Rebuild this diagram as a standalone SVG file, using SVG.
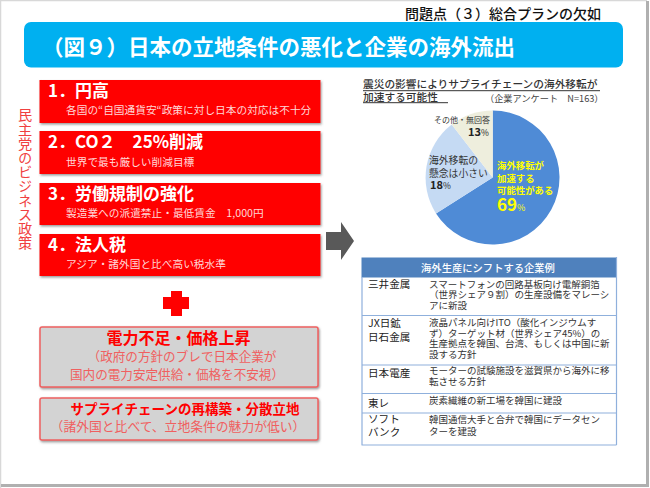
<svg xmlns="http://www.w3.org/2000/svg" width="650" height="488" viewBox="0 0 650 488">
<defs>
<filter id="sh" x="-5%" y="-10%" width="110%" height="125%"><feDropShadow dx="1" dy="1.5" stdDeviation="0.8" flood-color="#555" flood-opacity="0.6"/></filter>
</defs>
<style>
text{font-family:"Noto Sans CJK JP","Liberation Sans",sans-serif}
.rb{fill:#ff0000;filter:url(#sh)}
.gb{fill:#d3d3d3;stroke:#ee6060;stroke-width:1.5;filter:url(#sh)}
.h{font-size:17px;font-weight:700;fill:#fff}
.s{font-size:10.7px;fill:#ffd8d8}
.gh{font-weight:700;fill:#ff0000;text-anchor:middle}
.gs{fill:#f06060;text-anchor:middle}
.c{font-size:10.6px;fill:#222}
.d{font-size:9.5px;fill:#333}
.rule{stroke:#8fb0dc;stroke-width:1.2}
.p{font-size:9.8px;fill:#333}
</style>
<rect width="650" height="488" fill="#fff"/>
<path d="M0.5 488V0.5H647" fill="none" stroke="#d8d8d8" stroke-width="1.5"/>
<path d="M647.5 1V485.500H1" fill="none" stroke="#b0b0b0" stroke-width="3"/>

<g id="page-title"><text x="503" y="19" font-size="14" font-weight="500" fill="#111" text-anchor="middle">問題点（３）総合プランの欠如</text></g>
<g id="banner">
<rect x="24" y="22" width="599" height="45.500" rx="7" fill="#00b0f0"/>
<text x="42" y="55" font-size="21.500" font-weight="700" fill="#fff">（図９）日本の立地条件の悪化と企業の海外流出</text>
</g>

<g id="side-label"><text x="25" y="108" font-size="14.200" fill="#f04040" style="writing-mode:vertical-rl;glyph-orientation-vertical:0">民主党のビジネス政策</text></g>

<g id="item-1"><rect class="rb" x="39.500" y="80" width="281" height="43"/>
<text class="h" x="48" y="97">1．円高</text><text class="s" x="66" y="114">各国の“自国通貨安“政策に対し日本の対応は不十分</text></g>
<g id="item-2"><rect class="rb" x="39.500" y="131" width="281" height="43"/>
<text class="h" x="48" y="148">2．CO２　25%削減</text><text class="s" x="66" y="166">世界で最も厳しい削減目標</text></g>
<g id="item-3"><rect class="rb" x="39.500" y="183" width="281" height="42"/>
<text class="h" x="48" y="200">3．労働規制の強化</text><text class="s" x="66" y="217">製造業への派遣禁止・最低賃金　1,000円</text></g>
<g id="item-4"><rect class="rb" x="39.500" y="234" width="281" height="42"/>
<text class="h" x="48" y="251">4．法人税</text><text class="s" x="66" y="268">アジア・諸外国と比べ高い税水準</text></g>

<g id="plus"><path d="M171 291H182V297H189V309H182V316H171V309H163V297H171Z" fill="#ff0000"/></g>

<g id="box-power"><rect class="gb" x="40" y="327" width="278" height="60" rx="2"/>
<text class="gh" x="178.500" y="344" font-size="16">電力不足・価格上昇</text>
<text class="gs" x="182" y="361" font-size="12.600">（政府の方針のブレで日本企業が</text>
<text class="gs" x="177" y="379" font-size="12.600">国内の電力安定供給・価格を不安視）</text></g>
<g id="box-supply"><rect class="gb" x="40" y="398" width="278" height="42" rx="2"/>
<text class="gh" x="185" y="414" font-size="13.500">サプライチェーンの再構築・分散立地</text>
<text class="gs" x="178" y="431" font-size="12.800">（諸外国と比べて、立地条件の魅力が低い）</text></g>

<g id="connectors"><path d="M326 232H341V222L354 241L341 260V250H326Z" fill="#595959"/></g>

<g id="survey">
<text x="363" y="88" font-size="10.700" font-weight="500" fill="#333">震災の影響によりサプライチェーンの海外移転が</text>
<text x="363" y="100.500" font-size="10.700" font-weight="500" fill="#333">加速する可能性</text>
<path d="M363 90.700H600M363 102.700H448" stroke="#333" stroke-width="1" fill="none"/>
<text x="485" y="102" font-size="9.200" fill="#444">（企業アンケート　N=163）</text>
</g>

<g id="pie">
<path d="M492.700 177.500V110.500A67 67 0 1 1 436 213.500Z" fill="#4f8bd6"/>
<path d="M492.700 177.500L436 213.500A67 67 0 0 1 451.700 124.500Z" fill="#c5daf3"/>
<path d="M492.700 177.500L451.700 124.500A67 67 0 0 1 492.700 110.500Z" fill="#eeeedd"/>
<text class="p" x="434" y="123" style="font-size:8px">その他・無回答</text>
<text x="468" y="136" font-size="11" font-weight="700" fill="#222">13<tspan font-size="8.500" font-weight="400">%</tspan></text>
<text class="p" x="429" y="164">海外移転の</text>
<text class="p" x="429" y="176.500">懸念は小さい</text>
<text x="430" y="189" font-size="11" font-weight="700" fill="#222">18<tspan font-size="8.500" font-weight="400">%</tspan></text>
<g fill="#ffff00" font-weight="700"><text x="497" y="169" font-size="9.400">海外移転が</text><text x="497" y="181.500" font-size="9.400">加速する</text><text x="497" y="194" font-size="9.400">可能性がある</text><text x="497" y="211" font-size="17">69<tspan font-size="9" font-weight="400">%</tspan></text></g>
</g>

<g id="table">
<rect x="361.500" y="257.500" width="255" height="20" fill="#4f81bd"/>
<text x="488" y="271.500" font-size="10.300" font-weight="500" fill="#fff" text-anchor="middle">海外生産にシフトする企業例</text>
<path class="rule" d="M362 277V445M616.500 257V445M361.500 315.500H616.500M361.500 365H616.500M361.500 393.500H616.500M361.500 413H616.500M361.500 445H616.500" fill="none"/>
<text class="c" x="368" y="288">三井金属</text>
<text class="d" x="429" y="287.500">スマートフォンの回路基板向け電解銅箔</text>
<text class="d" x="429" y="298">（世界シェア９割）の生産設備をマレーシ</text>
<text class="d" x="429" y="309">アに新設</text>
<text class="c" x="368" y="327">JX日鉱</text>
<text class="c" x="368" y="341">日石金属</text>
<text class="d" x="429" y="326">液晶パネル向けITO（酸化インジウムす</text>
<text class="d" x="429" y="336.500">ず）ターゲット材（世界シェア45%）の</text>
<text class="d" x="429" y="347">生産拠点を韓国、台湾、もしくは中国に新</text>
<text class="d" x="429" y="358">設する方針</text>
<text class="c" x="368" y="377">日本電産</text>
<text class="d" x="429" y="374">モーターの試験施設を滋賀県から海外に移</text>
<text class="d" x="429" y="385">転させる方針</text>
<text class="c" x="368" y="407">東レ</text>
<text class="d" x="429" y="404">炭素繊維の新工場を韓国に建設</text>
<text class="c" x="368" y="423">ソフト</text>
<text class="c" x="368" y="436">バンク</text>
<text class="d" x="429" y="423">韓国通信大手と合弁で韓国にデータセン</text>
<text class="d" x="429" y="434.500">ターを建設</text>
</g>
</svg>
